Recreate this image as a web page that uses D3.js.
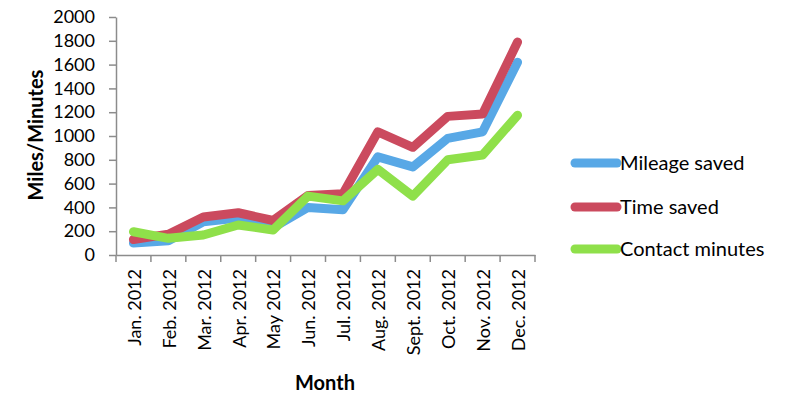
<!DOCTYPE html>
<html>
<head>
<meta charset="UTF-8">
<title>Miles/Minutes by month</title>
<script src="https://cdn.jsdelivr.net/npm/d3@7"></script>
<style>
  body { margin: 0; background: #fff; }
  text { font-family: Lato, "Open Sans", sans-serif; fill: #000; }
  .axis path, .axis line { stroke: #8c8c8c; stroke-width: 1.5; }
</style>
</head>
<body>
<div id="chart"></div>
<script>
// data
var months = ["Jan. 2012", "Feb. 2012", "Mar. 2012", "Apr. 2012", "May 2012", "Jun. 2012",
              "Jul. 2012", "Aug. 2012", "Sept. 2012", "Oct. 2012", "Nov. 2012", "Dec. 2012"];
var mileage = [100, 120, 280, 310, 230, 400, 380, 825, 740, 980, 1035, 1620];
var timeSaved = [130, 175, 320, 355, 290, 500, 515, 1035, 905, 1165, 1185, 1790];
var contact = [195, 140, 168, 252, 210, 495, 455, 720, 495, 800, 840, 1175];
var yTicks = [0, 200, 400, 600, 800, 1000, 1200, 1400, 1600, 1800, 2000];

var seriesNames = ["Mileage saved", "Time saved", "Contact minutes"];
var seriesColors = ["#58a8e6", "#cb4a5e", "#8fe04a"];
var seriesValues = [mileage, timeSaved, contact];

function drawChart() {
    var W = 785, H = 411;
    var pLeft = 116, pRight = 535, pTop = 17, pBottom = 255;

    var svg = d3.select("#chart").append("svg")
        .attr("width", W).attr("height", H);

    var x = d3.scaleBand().domain(months).range([pLeft, pRight]);
    var y = d3.scaleLinear().domain([0, 2000]).range([pBottom, pTop]);

    // y axis
    var yAxis = svg.append("g")
        .attr("class", "axis")
        .attr("transform", "translate(" + pLeft + ",0)")
        .call(d3.axisLeft(y).tickValues(yTicks).tickFormat(d3.format("d"))
              .tickSize(7).tickSizeOuter(0).tickPadding(14));
    yAxis.selectAll("text").style("font-size", "18px");

    // x axis, ticks on band boundaries
    var xAxis = svg.append("g")
        .attr("class", "axis")
        .attr("transform", "translate(0," + pBottom + ")")
        .call(d3.axisBottom(x).tickSize(0).tickSizeOuter(0));
    xAxis.selectAll("text")
        .style("font-size", "18px")
        .attr("text-anchor", "end")
        .attr("dy", "0.35em")
        .attr("transform", "translate(1,14) rotate(-90)")
        .attr("y", 0).attr("x", 0);
    xAxis.selectAll(".bound")
        .data(months.concat(["end"]))
        .enter().append("line")
        .attr("class", "bound")
        .attr("x1", function (d, i) { return pLeft + i * x.step(); })
        .attr("x2", function (d, i) { return pLeft + i * x.step(); })
        .attr("y1", 0).attr("y2", 7);

    // lines
    var line = d3.line()
        .x(function (d, i) { return x(months[i]) + x.bandwidth() / 2; })
        .y(function (d) { return y(d); });

    svg.selectAll(".series")
        .data(seriesValues)
        .enter().append("path")
        .attr("class", "series")
        .attr("d", line)
        .attr("fill", "none")
        .attr("stroke", function (d, i) { return seriesColors[i]; })
        .attr("stroke-width", 9)
        .attr("stroke-linejoin", "round")
        .attr("stroke-linecap", "round");

    // axis titles
    svg.append("text")
        .attr("transform", "translate(43,135) rotate(-90)")
        .attr("text-anchor", "middle")
        .style("font-size", "20px").style("font-weight", "bold")
        .text("Miles/Minutes");

    svg.append("text")
        .attr("x", 325).attr("y", 390)
        .attr("text-anchor", "middle")
        .style("font-size", "20px").style("font-weight", "bold")
        .text("Month");

    // legend
    var legend = svg.selectAll(".legend")
        .data(seriesNames)
        .enter().append("g")
        .attr("class", "legend")
        .attr("transform", function (d, i) { return "translate(0," + [163, 207, 249][i] + ")"; });
    legend.append("line")
        .attr("x1", 575).attr("x2", 617)
        .attr("y1", 0).attr("y2", 0)
        .attr("stroke", function (d, i) { return seriesColors[i]; })
        .attr("stroke-width", 9)
        .attr("stroke-linecap", "round");
    legend.append("text")
        .attr("x", 620).attr("y", 0).attr("dy", "0.35em")
        .style("font-size", "20px")
        .text(function (d) { return d; });
}

drawChart();
</script>
</body>
</html>
